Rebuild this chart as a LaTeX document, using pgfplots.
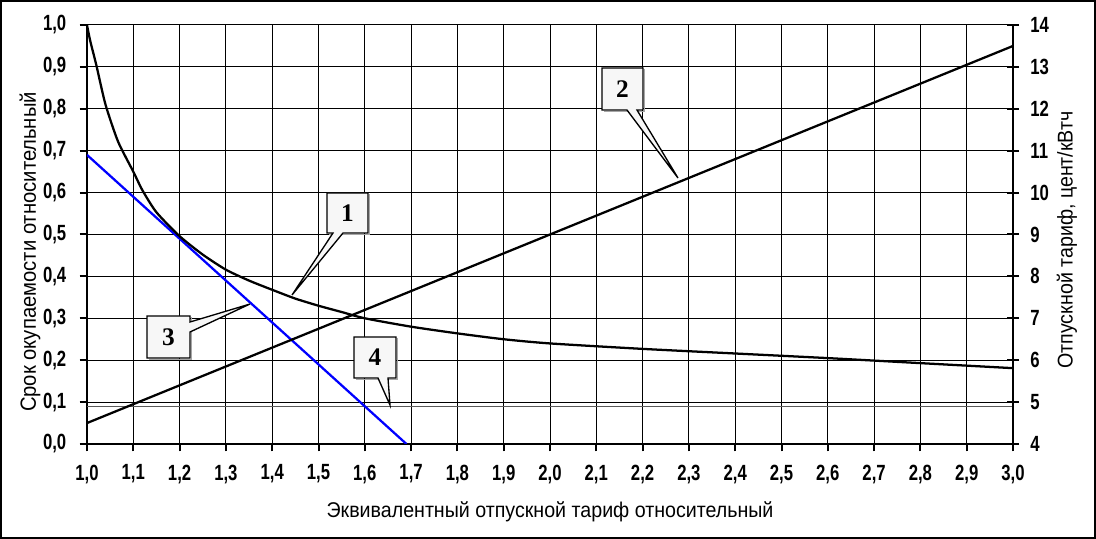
\documentclass[border=0pt]{standalone}
\usepackage{fontspec}
\setmainfont{Liberation Sans}
\newfontfamily\tickfont[FakeStretch=0.76]{Liberation Sans}
\newfontfamily\labfont[FakeStretch=0.92]{Liberation Sans}
\newfontfamily\boxfont{Liberation Serif}
\usepackage{pgfplots}
\pgfplotsset{compat=1.18}

\pgfplotsset{
  common/.style={
    at={(65.25pt,71.25pt)}, anchor=south west,
    width=694.5pt, height=314.25pt, scale only axis,
    xmin=1, xmax=3,
    ticklabel style={font=\tickfont\bfseries\fontsize{16.5}{16.5}\selectfont},
    /pgf/number format/assume math mode=true,
    tick style={black, line width=1.5pt},
  }
}

\begin{document}
\begin{tikzpicture}
\useasboundingbox (0,0) rectangle (822pt,404.25pt);

% left scale: relative payback period
\begin{axis}[common,
    ymin=0, ymax=1,
    axis lines=left,
    axis line style={-, line width=2pt},
    xtick distance=0.1, ytick distance=0.1,
    grid=major, major grid style={black, line width=0.75pt},
    tick align=outside, major tick length=5.5pt,
    xticklabel style={yshift=-6.5pt, /pgf/number format/.cd, fixed, fixed zerofill, precision=1, use comma},
    yticklabel style={xshift=-6.5pt, /pgf/number format/.cd, fixed, fixed zerofill, precision=1, use comma},
  ]
  % 4
  \addplot[black!65, line width=1pt] coordinates {(1.0,0.09) (3.0,0.09)};
  % 3
  \addplot[blue, line width=1.7pt] coordinates {(1.0,0.69) (1.69,0.0)};
  % 1
  \addplot[black, line width=1.7pt, smooth, tension=0.4] coordinates {
    (1.000,1.000) (1.007,0.962) (1.020,0.905) (1.040,0.810) (1.067,0.722)
    (1.100,0.650) (1.120,0.605) (1.150,0.553) (1.200,0.496) (1.250,0.452)
    (1.300,0.416) (1.350,0.390) (1.400,0.368) (1.450,0.347) (1.500,0.330)
    (1.550,0.315) (1.600,0.300) (1.700,0.280) (1.800,0.264) (1.900,0.250)
    (2.000,0.240) (2.200,0.227) (2.400,0.216) (2.600,0.205) (2.800,0.193)
    (3.000,0.181)
  };
\end{axis}

% right scale: tariff, cent/kWh
\begin{axis}[common,
    ymin=4, ymax=14,
    axis y line*=right, axis x line=none,
    axis line style={-, line width=2pt},
    ytick distance=1,
    tick align=center, major tick length=9pt,
    yticklabel style={xshift=5pt},
  ]
  % 2
  \addplot[black, line width=1.7pt] coordinates {(1.0,4.5) (3.0,13.5)};
\end{axis}

\begin{scope}[x=0.75pt, y=-0.75pt, shift={(0pt,404.25pt)}]
  \draw[line width=1.5pt] (1,1) rectangle (1095,538);

  \node[rotate=90, font=\labfont\fontsize{16.5}{16.5}\selectfont] at (30,252) {Срок окупаемости относительный};
  \node[font=\labfont\fontsize{16}{16}\selectfont] at (550,512) {Эквивалентный отпускной тариф относительный};
  \node[rotate=90, font=\labfont\fontsize{16}{16}\selectfont] at (1067,240) {Отпускной тариф, цент/кВтч};

  \tikzset{call/.style={fill=white!97!black, draw=black, line width=1pt, line join=miter},
           shad/.style={draw=gray!70, line width=1pt},
           num/.style={font=\boxfont\bfseries\fontsize{19}{19}\selectfont}}
  % 1
  \draw[shad] (369.5,194.5)--(369.5,234.5)--(328.5,234.5);
  \draw[call] (327,193)--(368,193)--(368,233)--(343,233)--(292,295)--(333,233)--(327,233)--cycle;
  \node[num] at (347.5,213) {1};
  % 2
  \draw[shad] (644.5,69.5)--(644.5,111.5)--(603.5,111.5);
  \draw[call] (602,68)--(643,68)--(643,110)--(637,110)--(678,178)--(627,110)--(602,110)--cycle;
  \node[num] at (622.5,89) {2};
  % 3
  \draw[shad] (191.5,317.5)--(191.5,359.5)--(148.5,359.5);
  \draw[call] (147,316)--(190,316)--(190,322)--(250,304)--(190,332)--(190,358)--(147,358)--cycle;
  \node[num] at (168.5,337) {3};
  % 4
  \draw[shad] (397.5,338.5)--(397.5,379.5)--(355.5,379.5);
  \draw[call] (354,337)--(396,337)--(396,378)--(388,378)--(390,405)--(378,378)--(354,378)--cycle;
  \node[num] at (375,357.5) {4};
\end{scope}
\end{tikzpicture}
\end{document}
